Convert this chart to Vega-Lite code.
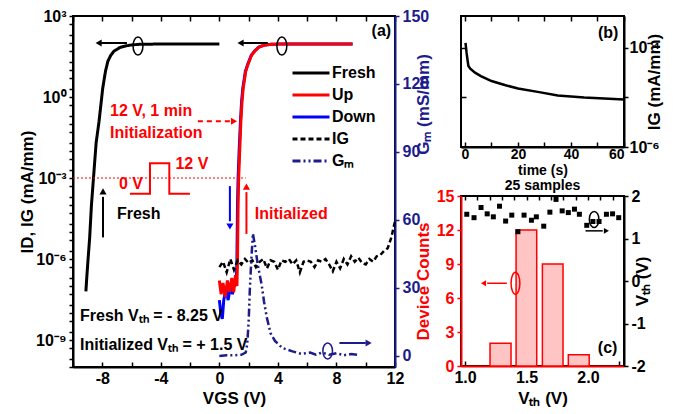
{
"$schema": "https://vega.github.io/schema/vega-lite/v6.json",
"background": "white",
"padding": {"left": 17, "top": 7, "right": 5, "bottom": 3},
"config": {
 "font": "Liberation Sans",
 "view": {"stroke": "black", "strokeWidth": 2},
 "axis": {"labelFont": "Liberation Sans", "labelFontSize": 16, "labelFontWeight": "bold", "labelColor": "black", "titleFont": "Liberation Sans", "titleFontSize": 17, "titleFontWeight": "bold", "titleColor": "black", "domainColor": "black", "domainWidth": 2, "tickColor": "black", "tickWidth": 1.5, "tickSize": 5, "grid": false, "labelPadding": 3, "labelFlush": false, "labelOverlap": false},
 "legend": {"labelFont": "Liberation Sans", "labelFontSize": 16, "labelFontWeight": "bold", "symbolType": "M-3.7,0L3.7,0", "symbolSize": 100, "symbolStrokeWidth": 3, "rowPadding": 6, "labelOffset": 13},
 "title": {"font": "Liberation Sans", "fontSize": 15, "fontWeight": "bold", "color": "black"}
},
"datasets": {
 "curves": [
  {"series": "Fresh", "vg": -9.12, "y": 6.3e-8}, {"series": "Fresh", "vg": -9.06, "y": 2.0e-7}, {"series": "Fresh", "vg": -8.97, "y": 1.0e-6}, {"series": "Fresh", "vg": -8.86, "y": 6.3e-6}, {"series": "Fresh", "vg": -8.74, "y": 1.0e-4}, {"series": "Fresh", "vg": -8.6, "y": 1.0e-3}, {"series": "Fresh", "vg": -8.42, "y": 0.02}, {"series": "Fresh", "vg": -8.22, "y": 0.126}, {"series": "Fresh", "vg": -7.97, "y": 2.1}, {"series": "Fresh", "vg": -7.78, "y": 9}, {"series": "Fresh", "vg": -7.62, "y": 21}, {"series": "Fresh", "vg": -7.42, "y": 35}, {"series": "Fresh", "vg": -7.2, "y": 50}, {"series": "Fresh", "vg": -6.8, "y": 68}, {"series": "Fresh", "vg": -6.4, "y": 78}, {"series": "Fresh", "vg": -6.0, "y": 85}, {"series": "Fresh", "vg": -5.5, "y": 89}, {"series": "Fresh", "vg": -4.5, "y": 91}, {"series": "Fresh", "vg": -3, "y": 92}, {"series": "Fresh", "vg": 0, "y": 92},
  {"series": "Down", "vg": 0.0, "y": 3e-8}, {"series": "Down", "vg": 0.1, "y": 1e-8}, {"series": "Down", "vg": 0.2, "y": 6e-9}, {"series": "Down", "vg": 0.3, "y": 3e-8}, {"series": "Down", "vg": 0.45, "y": 8e-8}, {"series": "Down", "vg": 0.6, "y": 3e-8}, {"series": "Down", "vg": 0.75, "y": 1e-7}, {"series": "Down", "vg": 0.9, "y": 5e-8}, {"series": "Down", "vg": 1.05, "y": 1.5e-7}, {"series": "Down", "vg": 1.15, "y": 1e-7}, {"series": "Down", "vg": 1.2, "y": 1e-6}, {"series": "Down", "vg": 1.24, "y": 1e-4}, {"series": "Down", "vg": 1.28, "y": 1e-3}, {"series": "Down", "vg": 1.35, "y": 0.01}, {"series": "Down", "vg": 1.44, "y": 0.126}, {"series": "Down", "vg": 1.52, "y": 0.7}, {"series": "Down", "vg": 1.6, "y": 2.1}, {"series": "Down", "vg": 1.78, "y": 9}, {"series": "Down", "vg": 1.95, "y": 17}, {"series": "Down", "vg": 2.18, "y": 35}, {"series": "Down", "vg": 2.4, "y": 50}, {"series": "Down", "vg": 2.68, "y": 70}, {"series": "Down", "vg": 3.08, "y": 84}, {"series": "Down", "vg": 3.6, "y": 90}, {"series": "Down", "vg": 4.3, "y": 92}, {"series": "Down", "vg": 9.1, "y": 92},
  {"series": "Up", "vg": 0.0, "y": 1.6e-7}, {"series": "Up", "vg": 0.12, "y": 5e-8}, {"series": "Up", "vg": 0.25, "y": 1.3e-7}, {"series": "Up", "vg": 0.4, "y": 4e-8}, {"series": "Up", "vg": 0.55, "y": 1.6e-7}, {"series": "Up", "vg": 0.7, "y": 6e-8}, {"series": "Up", "vg": 0.85, "y": 2e-7}, {"series": "Up", "vg": 0.98, "y": 6e-8}, {"series": "Up", "vg": 1.1, "y": 2.5e-7}, {"series": "Up", "vg": 1.2, "y": 1e-7}, {"series": "Up", "vg": 1.24, "y": 1e-6}, {"series": "Up", "vg": 1.28, "y": 1e-4}, {"series": "Up", "vg": 1.32, "y": 1e-3}, {"series": "Up", "vg": 1.39, "y": 0.01}, {"series": "Up", "vg": 1.47, "y": 0.126}, {"series": "Up", "vg": 1.55, "y": 0.7}, {"series": "Up", "vg": 1.63, "y": 2.1}, {"series": "Up", "vg": 1.8, "y": 9}, {"series": "Up", "vg": 1.97, "y": 17}, {"series": "Up", "vg": 2.2, "y": 35}, {"series": "Up", "vg": 2.42, "y": 50}, {"series": "Up", "vg": 2.7, "y": 70}, {"series": "Up", "vg": 3.1, "y": 84}, {"series": "Up", "vg": 3.6, "y": 90}, {"series": "Up", "vg": 4.3, "y": 92}, {"series": "Up", "vg": 9.1, "y": 92},
  {"series": "IG", "vg": 0, "y": 5.0e-7}, {"series": "IG", "vg": 0.25, "y": 7.9e-7}, {"series": "IG", "vg": 0.5, "y": 3.2e-7}, {"series": "IG", "vg": 0.75, "y": 1.0e-6}, {"series": "IG", "vg": 1.0, "y": 4.0e-7}, {"series": "IG", "vg": 1.25, "y": 8.9e-7}, {"series": "IG", "vg": 1.5, "y": 6.3e-7}, {"series": "IG", "vg": 1.75, "y": 1.0e-6}, {"series": "IG", "vg": 2.0, "y": 7.1e-7}, {"series": "IG", "vg": 2.25, "y": 8.9e-7}, {"series": "IG", "vg": 2.5, "y": 5.0e-7}, {"series": "IG", "vg": 2.75, "y": 7.9e-7}, {"series": "IG", "vg": 3.0, "y": 1.0e-6}, {"series": "IG", "vg": 3.25, "y": 4.5e-7}, {"series": "IG", "vg": 3.5, "y": 8.9e-7}, {"series": "IG", "vg": 3.75, "y": 7.9e-7}, {"series": "IG", "vg": 4.0, "y": 4.0e-7}, {"series": "IG", "vg": 4.25, "y": 8.9e-7}, {"series": "IG", "vg": 4.5, "y": 7.9e-7}, {"series": "IG", "vg": 4.75, "y": 1.0e-6}, {"series": "IG", "vg": 5.0, "y": 6.3e-7}, {"series": "IG", "vg": 5.25, "y": 8.9e-7}, {"series": "IG", "vg": 5.5, "y": 3.2e-7}, {"series": "IG", "vg": 5.75, "y": 7.9e-7}, {"series": "IG", "vg": 6.0, "y": 8.9e-7}, {"series": "IG", "vg": 6.25, "y": 7.9e-7}, {"series": "IG", "vg": 6.5, "y": 5.0e-7}, {"series": "IG", "vg": 6.75, "y": 8.9e-7}, {"series": "IG", "vg": 7.0, "y": 7.9e-7}, {"series": "IG", "vg": 7.25, "y": 1.0e-6}, {"series": "IG", "vg": 7.5, "y": 6.3e-7}, {"series": "IG", "vg": 7.75, "y": 3.5e-7}, {"series": "IG", "vg": 8.0, "y": 7.9e-7}, {"series": "IG", "vg": 8.25, "y": 4.5e-7}, {"series": "IG", "vg": 8.5, "y": 1.0e-6}, {"series": "IG", "vg": 8.75, "y": 6.3e-7}, {"series": "IG", "vg": 9.0, "y": 1.26e-6}, {"series": "IG", "vg": 9.25, "y": 7.9e-7}, {"series": "IG", "vg": 9.5, "y": 1.12e-6}, {"series": "IG", "vg": 9.75, "y": 7.1e-7}, {"series": "IG", "vg": 10.0, "y": 6.3e-7}, {"series": "IG", "vg": 10.25, "y": 1.0e-6}, {"series": "IG", "vg": 10.5, "y": 7.9e-7}, {"series": "IG", "vg": 10.75, "y": 1.26e-6}, {"series": "IG", "vg": 11.0, "y": 1.41e-6}, {"series": "IG", "vg": 11.25, "y": 2.0e-6}, {"series": "IG", "vg": 11.5, "y": 2.5e-6}, {"series": "IG", "vg": 11.75, "y": 6.3e-6}, {"series": "IG", "vg": 12.0, "y": 2.5e-5}
 ],
 "gm": [
  {"series": "Gm", "vg": 0, "gm": 0}, {"series": "Gm", "vg": 0.5, "gm": 0.3}, {"series": "Gm", "vg": 1.0, "gm": 0.3}, {"series": "Gm", "vg": 1.5, "gm": 0.5}, {"series": "Gm", "vg": 1.8, "gm": 1.5}, {"series": "Gm", "vg": 1.9, "gm": 5}, {"series": "Gm", "vg": 2.0, "gm": 15}, {"series": "Gm", "vg": 2.08, "gm": 29}, {"series": "Gm", "vg": 2.18, "gm": 42}, {"series": "Gm", "vg": 2.29, "gm": 54}, {"series": "Gm", "vg": 2.45, "gm": 48}, {"series": "Gm", "vg": 2.63, "gm": 40}, {"series": "Gm", "vg": 2.9, "gm": 31}, {"series": "Gm", "vg": 3.05, "gm": 24}, {"series": "Gm", "vg": 3.24, "gm": 17}, {"series": "Gm", "vg": 3.5, "gm": 10}, {"series": "Gm", "vg": 3.8, "gm": 6.6}, {"series": "Gm", "vg": 4.3, "gm": 3.5}, {"series": "Gm", "vg": 5.0, "gm": 2}, {"series": "Gm", "vg": 5.6, "gm": 0.9}, {"series": "Gm", "vg": 6.2, "gm": 1.5}, {"series": "Gm", "vg": 6.6, "gm": 0.5}, {"series": "Gm", "vg": 7.0, "gm": 1.5}, {"series": "Gm", "vg": 7.5, "gm": 0.5}, {"series": "Gm", "vg": 8.0, "gm": 1.2}, {"series": "Gm", "vg": 8.5, "gm": 0.3}, {"series": "Gm", "vg": 9.0, "gm": 0.8}, {"series": "Gm", "vg": 9.5, "gm": 0.5}
 ],
 "gate": [
  {"t": 0.2, "ig": 1.26e-4}, {"t": 0.6, "ig": 8e-5}, {"t": 1.0, "ig": 5.5e-5}, {"t": 1.3, "ig": 4.3e-5}, {"t": 2, "ig": 3.8e-5}, {"t": 3.8, "ig": 3.16e-5}, {"t": 6, "ig": 2.7e-5}, {"t": 10, "ig": 2.14e-5}, {"t": 15, "ig": 1.78e-5}, {"t": 20, "ig": 1.51e-5}, {"t": 28, "ig": 1.28e-5}, {"t": 35, "ig": 1.1e-5}, {"t": 45, "ig": 1.0e-5}, {"t": 60, "ig": 9.1e-6}
 ],
 "hist": [
  {"lo": 1.203, "hi": 1.374, "count": 2}, {"lo": 1.415, "hi": 1.583, "count": 12}, {"lo": 1.629, "hi": 1.797, "count": 9}, {"lo": 1.84, "hi": 2.01, "count": 1}
 ],
 "vth": [
  {"x": 1.014, "v": 1.57}, {"x": 1.073, "v": 1.49}, {"x": 1.13, "v": 1.73}, {"x": 1.18, "v": 1.58}, {"x": 1.23, "v": 1.51}, {"x": 1.28, "v": 1.76}, {"x": 1.33, "v": 1.41}, {"x": 1.38, "v": 1.55}, {"x": 1.43, "v": 1.16}, {"x": 1.48, "v": 1.55}, {"x": 1.54, "v": 1.43}, {"x": 1.58, "v": 1.51}, {"x": 1.64, "v": 1.29}, {"x": 1.69, "v": 1.62}, {"x": 1.74, "v": 1.92}, {"x": 1.79, "v": 1.65}, {"x": 1.84, "v": 1.61}, {"x": 1.89, "v": 1.69}, {"x": 1.93, "v": 1.57}, {"x": 1.99, "v": 1.31}, {"x": 2.04, "v": 1.4}, {"x": 2.09, "v": 1.4}, {"x": 2.15, "v": 1.57}, {"x": 2.2, "v": 1.58}, {"x": 2.25, "v": 1.49}
 ]
},
"hconcat": [
 {
  "width": 322, "height": 351,
  "layer": [
   {"layer": [
    {"data": {"name": "curves"}, "transform": [{"filter": "datum.series === 'Fresh'"}],
     "mark": {"type": "line", "strokeWidth": 3},
     "encoding": {
      "x": {"field": "vg", "type": "quantitative", "scale": {"domain": [-10, 12], "nice": false}, "axis": {"title": "VGS (V)", "values": [-10, -8, -6, -4, -2, 0, 2, 4, 6, 8, 10, 12], "tickCount": 100, "labelExpr": "indexof(['-8','-4','0','4','8','12'], '' + datum.value) >= 0 ? '' + datum.value : ''", "labelOverlap": false, "tickSize": -5, "labelPadding": 8, "titlePadding": 4}},
      "y": {"field": "y", "type": "quantitative", "scale": {"type": "log", "domain": [1e-10, 1000], "nice": false}, "axis": {"title": "ID, IG (mA/mm)", "labelOverlap": false, "tickCount": 100, "values": [1e-10, 2e-10, 5e-10, 1e-9, 2e-9, 5e-9, 1e-8, 2e-8, 5e-8, 1e-7, 2e-7, 5e-7, 1e-6, 2e-6, 5e-6, 1e-5, 2e-5, 5e-5, 1e-4, 2e-4, 5e-4, 1e-3, 2e-3, 5e-3, 0.01, 0.02, 0.05, 0.1, 0.2, 0.5, 1, 2, 5, 10, 20, 50, 100, 200, 500, 1000], "labelExpr": "abs(log(datum.value)/LN10 - round(log(datum.value)/LN10)) > 0.01 ? '' : (round(log(datum.value)/LN10) === 3 ? '10³' : round(log(datum.value)/LN10) === 0 ? '10⁰' : round(log(datum.value)/LN10) === -3 ? '10⁻³' : round(log(datum.value)/LN10) === -6 ? '10⁻⁶' : round(log(datum.value)/LN10) === -9 ? '10⁻⁹' : '')", "tickSize": 4, "titlePadding": -1}},
      "color": {"field": "series", "type": "nominal", "scale": {"domain": ["Fresh", "Up", "Down", "IG", "Gm"], "range": ["#000000", "#ff0000", "#0000ff", "#000000", "#1c1c8c"]}, "legend": {"title": null, "orient": "none", "legendX": 230, "legendY": 49, "labelExpr": "datum.label === 'Gm' ? 'Gₘ' : datum.label"}},
      "strokeDash": {"field": "series", "type": "nominal", "scale": {"domain": ["Fresh", "Up", "Down", "IG", "Gm"], "range": [[1, 0], [1, 0], [1, 0], [5, 3], [8, 3, 2, 3, 2, 3]]}, "legend": {"title": null, "orient": "none", "legendX": 230, "legendY": 49, "labelExpr": "datum.label === 'Gm' ? 'Gₘ' : datum.label"}}
     }},
    {"data": {"name": "curves"}, "transform": [{"filter": "datum.series === 'Down'"}],
     "mark": {"type": "line", "strokeWidth": 3},
     "encoding": {"x": {"field": "vg", "type": "quantitative"}, "y": {"field": "y", "type": "quantitative"}, "color": {"field": "series", "type": "nominal"}, "strokeDash": {"field": "series", "type": "nominal"}}},
    {"data": {"name": "curves"}, "transform": [{"filter": "datum.series === 'Up'"}],
     "mark": {"type": "line", "strokeWidth": 3},
     "encoding": {"x": {"field": "vg", "type": "quantitative"}, "y": {"field": "y", "type": "quantitative"}, "color": {"field": "series", "type": "nominal"}, "strokeDash": {"field": "series", "type": "nominal"}}},
    {"data": {"name": "curves"}, "transform": [{"filter": "datum.series === 'IG'"}],
     "mark": {"type": "line", "strokeWidth": 2.5},
     "encoding": {"x": {"field": "vg", "type": "quantitative"}, "y": {"field": "y", "type": "quantitative"}, "color": {"field": "series", "type": "nominal"}, "strokeDash": {"field": "series", "type": "nominal"}}},
    {"data": {"values": [{"vg": -10, "vg2": 1.8, "y": 0.001}]},
     "mark": {"type": "rule", "color": "#ff0000", "strokeWidth": 1, "strokeDash": [2, 2]},
     "encoding": {"x": {"field": "vg", "type": "quantitative"}, "x2": {"field": "vg2"}, "y": {"field": "y", "type": "quantitative"}}},
    {"data": {"values": [{"i": 1, "vg": -6.11, "y": 2.6e-4}, {"i": 2, "vg": -4.74, "y": 2.6e-4}, {"i": 3, "vg": -4.74, "y": 3.5e-3}, {"i": 4, "vg": -3.42, "y": 3.5e-3}, {"i": 5, "vg": -3.42, "y": 2.6e-4}, {"i": 6, "vg": -2.01, "y": 2.6e-4}]},
     "mark": {"type": "line", "color": "#ff0000", "strokeWidth": 2},
     "encoding": {"x": {"field": "vg", "type": "quantitative"}, "y": {"field": "y", "type": "quantitative"}, "order": {"field": "i", "type": "quantitative"}}},
    {"data": {"values": [{"vg": -6.31, "vg2": -8.1, "y": 100, "y2": 100}, {"vg": 3.31, "vg2": 1.6, "y": 100, "y2": 100}, {"vg": -7.95, "vg2": -7.95, "y": 6.3e-6, "y2": 2.0e-4}]},
     "mark": {"type": "rule", "color": "black", "strokeWidth": 2},
     "encoding": {"x": {"field": "vg", "type": "quantitative"}, "x2": {"field": "vg2"}, "y": {"field": "y", "type": "quantitative"}, "y2": {"field": "y2"}}},
    {"data": {"values": [{"vg": -8.25, "y": 100, "head": "triangle-left"}, {"vg": 1.45, "y": 100, "head": "triangle-left"}, {"vg": -7.95, "y": 3.2e-4, "head": "triangle-up"}]},
     "mark": {"type": "point", "filled": true, "color": "black", "size": 50, "opacity": 1},
     "encoding": {"x": {"field": "vg", "type": "quantitative"}, "y": {"field": "y", "type": "quantitative"}, "shape": {"field": "head", "type": "nominal", "scale": null}}},
    {"data": {"values": [{"vg": 1.85, "vg2": 1.85, "y": 8.5e-6, "y2": 3.0e-4}]},
     "mark": {"type": "rule", "color": "#ff0000", "strokeWidth": 2},
     "encoding": {"x": {"field": "vg", "type": "quantitative"}, "x2": {"field": "vg2"}, "y": {"field": "y", "type": "quantitative"}, "y2": {"field": "y2"}}},
    {"data": {"values": [{"vg": -1.47, "vg2": 0.85, "y": 0.126}]},
     "mark": {"type": "rule", "color": "#ff0000", "strokeWidth": 2, "strokeDash": [5, 4]},
     "encoding": {"x": {"field": "vg", "type": "quantitative"}, "x2": {"field": "vg2"}, "y": {"field": "y", "type": "quantitative"}}},
    {"data": {"values": [{"vg": 1.85, "y": 4.8e-4, "head": "triangle-up"}, {"vg": 1.0, "y": 0.126, "head": "triangle-right"}]},
     "mark": {"type": "point", "filled": true, "color": "#ff0000", "size": 50, "opacity": 1},
     "encoding": {"x": {"field": "vg", "type": "quantitative"}, "y": {"field": "y", "type": "quantitative"}, "shape": {"field": "head", "type": "nominal", "scale": null}}},
    {"data": {"values": [{"vg": 0.72, "vg2": 0.72, "y": 5e-4, "y2": 2.5e-5}]},
     "mark": {"type": "rule", "color": "#0000ff", "strokeWidth": 2},
     "encoding": {"x": {"field": "vg", "type": "quantitative"}, "x2": {"field": "vg2"}, "y": {"field": "y", "type": "quantitative"}, "y2": {"field": "y2"}}},
    {"data": {"values": [{"vg": 0.72, "y": 1.6e-5, "head": "triangle-down"}]},
     "mark": {"type": "point", "filled": true, "color": "#0000ff", "size": 50, "opacity": 1},
     "encoding": {"x": {"field": "vg", "type": "quantitative"}, "y": {"field": "y", "type": "quantitative"}, "shape": {"field": "head", "type": "nominal", "scale": null}}},
    {"data": {"values": [{"vg": -5.56, "y": 77}, {"vg": 4.27, "y": 77}]},
     "mark": {"type": "point", "shape": "M0,-1A0.55,1 0 1,1 0,1A0.55,1 0 1,1 0,-1Z", "filled": false, "color": "black", "strokeWidth": 1.5, "size": 324, "opacity": 1},
     "encoding": {"x": {"field": "vg", "type": "quantitative"}, "y": {"field": "y", "type": "quantitative"}}},
    {"data": {"values": [{"vg": -7.47, "y": 0.30, "label": "12 V, 1 min"}, {"vg": -7.47, "y": 0.048, "label": "Initialization"}, {"vg": 2.42, "y": 4.7e-5, "label": "Initialized"}]},
     "mark": {"type": "text", "color": "#ff0000", "font": "Liberation Sans", "fontSize": 16, "fontWeight": "bold", "align": "left", "baseline": "middle"},
     "encoding": {"x": {"field": "vg", "type": "quantitative"}, "y": {"field": "y", "type": "quantitative"}, "text": {"field": "label", "type": "nominal"}}},
    {"data": {"values": [{"vg": -6.04, "y": 6.2e-4, "label": "0 V"}, {"vg": -1.88, "y": 3.2e-3, "label": "12 V"}]},
     "mark": {"type": "text", "color": "#ff0000", "font": "Liberation Sans", "fontSize": 16, "fontWeight": "bold", "align": "center", "baseline": "middle"},
     "encoding": {"x": {"field": "vg", "type": "quantitative"}, "y": {"field": "y", "type": "quantitative"}, "text": {"field": "label", "type": "nominal"}}},
    {"data": {"values": [{"vg": -7.0, "y": 4.7e-5, "label": "Fresh"}, {"vg": -9.52, "y": 7.8e-9, "label": "Fresh Vₜₕ = - 8.25 V"}, {"vg": -9.52, "y": 6.5e-10, "label": "Initialized Vₜₕ = + 1.5 V"}, {"vg": 10.4, "y": 277, "label": "(a)"}]},
     "mark": {"type": "text", "color": "black", "font": "Liberation Sans", "fontSize": 16, "fontWeight": "bold", "align": "left", "baseline": "middle"},
     "encoding": {"x": {"field": "vg", "type": "quantitative"}, "y": {"field": "y", "type": "quantitative"}, "text": {"field": "label", "type": "nominal"}}}
   ]},
   {"layer": [
    {"data": {"name": "gm"},
     "mark": {"type": "line", "strokeWidth": 2.5},
     "encoding": {
      "x": {"field": "vg", "type": "quantitative", "axis": {"orient": "top", "title": null, "labels": false, "domain": false, "values": [-10, -8, -6, -4, -2, 0, 2, 4, 6, 8, 10, 12], "tickCount": 100, "tickSize": -5}},
      "y": {"field": "gm", "type": "quantitative", "scale": {"domain": [-4.9, 150], "nice": false, "zero": false}, "axis": {"orient": "right", "title": "Gₘ (mS/mm)", "titleAngle": 270, "titleY": 88, "titleColor": "#1c1c8c", "labelColor": "#1c1c8c", "domainColor": "#1c1c8c", "tickColor": "#1c1c8c", "values": [0, 30, 60, 90, 120, 150], "tickCount": 100, "labelOverlap": false, "tickSize": 4, "titlePadding": 4}},
      "color": {"field": "series", "type": "nominal"},
      "strokeDash": {"field": "series", "type": "nominal"}
     }},
    {"data": {"values": [{"vg": 8.2, "vg2": 10.0, "gm": 5.7}]},
     "mark": {"type": "rule", "color": "#1c1c8c", "strokeWidth": 2},
     "encoding": {"x": {"field": "vg", "type": "quantitative"}, "x2": {"field": "vg2"}, "y": {"field": "gm", "type": "quantitative"}}},
    {"data": {"values": [{"vg": 10.2, "gm": 5.7, "head": "triangle-right"}]},
     "mark": {"type": "point", "filled": true, "color": "#1c1c8c", "size": 50, "opacity": 1},
     "encoding": {"x": {"field": "vg", "type": "quantitative"}, "y": {"field": "gm", "type": "quantitative"}, "shape": {"field": "head", "type": "nominal", "scale": null}}},
    {"data": {"values": [{"vg": 7.4, "gm": 2.2}]},
     "mark": {"type": "point", "shape": "M0,-1A0.6,1 0 1,1 0,1A0.6,1 0 1,1 0,-1Z", "filled": false, "color": "#1c1c8c", "strokeWidth": 1.5, "size": 256, "opacity": 1},
     "encoding": {"x": {"field": "vg", "type": "quantitative"}, "y": {"field": "gm", "type": "quantitative"}}}
   ]}
  ],
  "resolve": {"scale": {"y": "independent"}, "axis": {"x": "independent"}}
 },
 {
  "vconcat": [
   {
    "width": 163, "height": 131,
    "layer": [
     {"data": {"name": "gate"},
      "mark": {"type": "line", "color": "black", "strokeWidth": 2.5},
      "encoding": {
       "x": {"field": "t", "type": "quantitative", "scale": {"domain": [-1.5, 60], "nice": false}, "axis": {"title": "time (s)", "titleFontSize": 14, "labelFontSize": 14, "values": [0, 10, 20, 30, 40, 50, 60], "tickCount": 100, "labelExpr": "datum.value % 20 === 0 ? '' + datum.value : ''", "labelOverlap": false, "labelFlush": true, "tickSize": -5, "labelPadding": 5, "titlePadding": 2}},
       "y": {"field": "ig", "type": "quantitative", "scale": {"type": "log", "domain": [1e-6, 4.4e-4], "nice": false}, "axis": {"orient": "right", "title": "IG (mA/mm)", "titleAngle": 270, "values": [1e-6, 1e-5, 1e-4], "tickCount": 100, "labelExpr": "datum.value < 5e-6 ? '10⁻⁶' : datum.value > 5e-5 ? '10⁻⁴' : ''", "labelOverlap": false, "tickSize": 4, "labelPadding": 1, "titlePadding": 4}}
      }},
     {"data": {"values": [{"t": 54, "ig": 2.0e-4, "label": "(b)"}]},
      "mark": {"type": "text", "color": "black", "font": "Liberation Sans", "fontSize": 16, "fontWeight": "bold", "align": "center", "baseline": "middle"},
      "encoding": {
       "x": {"field": "t", "type": "quantitative", "axis": {"orient": "top", "title": null, "labels": false, "domain": false, "values": [0, 10, 20, 30, 40, 50, 60], "tickCount": 100, "tickSize": -5}},
       "y": {"field": "ig", "type": "quantitative", "axis": {"orient": "left", "title": null, "labels": false, "domain": false, "values": [1e-6, 1e-5, 1e-4], "tickCount": 100, "tickSize": -5}},
       "text": {"field": "label", "type": "nominal"}}}
    ],
    "resolve": {"axis": {"x": "independent", "y": "independent"}}
   },
   {
    "width": 163, "height": 170,
    "title": {"text": "25 samples", "fontSize": 14, "offset": -5, "frame": "group"},
    "layer": [
     {"layer": [
      {"data": {"name": "hist"},
       "mark": {"type": "rect", "fill": "#ffc4c4", "stroke": "#ff0000", "strokeWidth": 1.5},
       "encoding": {
        "x": {"field": "lo", "type": "quantitative", "scale": {"domain": [0.967, 2.293], "nice": false, "zero": false}, "axis": {"title": "Vₜₕ (V)", "values": [1.0, 1.25, 1.5, 1.75, 2.0, 2.25], "tickCount": 100, "labelExpr": "(datum.value * 2) % 1 === 0 ? format(datum.value, '.1f') : ''", "labelOverlap": false, "domainColor": "#ff0000", "tickSize": -5, "labelPadding": 8, "titlePadding": 5}},
        "x2": {"field": "hi"},
        "y": {"field": "count", "type": "quantitative", "scale": {"domain": [0, 15], "nice": false}, "axis": {"title": "Device Counts", "titleColor": "#ff0000", "labelColor": "#ff0000", "domainColor": "#ff0000", "tickColor": "#ff0000", "values": [0, 3, 6, 9, 12, 15], "tickCount": 100, "labelExpr": "'' + datum.value", "labelOverlap": false, "tickSize": 4, "titlePadding": 4}},
        "y2": {"datum": 0}
       }},
      {"data": {"values": [{"x": 1.34, "x2": 1.18, "count": 7.3}]},
       "mark": {"type": "rule", "color": "#ff0000", "strokeWidth": 1.5},
       "encoding": {"x": {"field": "x", "type": "quantitative"}, "x2": {"field": "x2"}, "y": {"field": "count", "type": "quantitative"}}},
      {"data": {"values": [{"x": 1.15, "count": 7.3, "head": "triangle-left"}]},
       "mark": {"type": "point", "filled": true, "color": "#ff0000", "size": 35, "opacity": 1},
       "encoding": {"x": {"field": "x", "type": "quantitative"}, "y": {"field": "count", "type": "quantitative"}, "shape": {"field": "head", "type": "nominal", "scale": null}}},
      {"data": {"values": [{"x": 1.41, "count": 7.3}]},
       "mark": {"type": "point", "shape": "M0,-1A0.4,1 0 1,1 0,1A0.4,1 0 1,1 0,-1Z", "filled": false, "color": "#ff0000", "strokeWidth": 1.5, "size": 484, "opacity": 1},
       "encoding": {"x": {"field": "x", "type": "quantitative"}, "y": {"field": "count", "type": "quantitative"}}},
      {"data": {"values": [{"x": 2.16, "count": 1.6, "label": "(c)"}]},
       "mark": {"type": "text", "color": "black", "font": "Liberation Sans", "fontSize": 16, "fontWeight": "bold", "align": "center", "baseline": "middle"},
       "encoding": {"x": {"field": "x", "type": "quantitative"}, "y": {"field": "count", "type": "quantitative"}, "text": {"field": "label", "type": "nominal"}}}
     ]},
     {"layer": [
      {"data": {"name": "vth"},
       "mark": {"type": "square", "color": "black", "size": 25, "opacity": 1},
       "encoding": {
        "x": {"field": "x", "type": "quantitative", "axis": {"orient": "top", "title": null, "labels": false, "domain": false, "values": [1.0, 1.1, 1.2, 1.3, 1.4, 1.5, 1.6, 1.7, 1.8, 1.9, 2.0, 2.1, 2.2], "tickCount": 100, "tickSize": -4}},
        "y": {"field": "v", "type": "quantitative", "scale": {"domain": [-2, 2], "nice": false}, "axis": {"orient": "right", "title": "Vₜₕ (V)", "titleAngle": 270, "values": [-2, -1, 0, 1, 2], "tickCount": 100, "labelExpr": "'' + datum.value", "labelOverlap": false, "tickSize": 4, "titlePadding": 6}}
       }},
      {"data": {"values": [{"x": 1.98, "x2": 2.12, "v": 1.18}]},
       "mark": {"type": "rule", "color": "black", "strokeWidth": 1.5},
       "encoding": {"x": {"field": "x", "type": "quantitative"}, "x2": {"field": "x2"}, "y": {"field": "v", "type": "quantitative"}}},
      {"data": {"values": [{"x": 2.15, "v": 1.18, "head": "triangle-right"}]},
       "mark": {"type": "point", "filled": true, "color": "black", "size": 35, "opacity": 1},
       "encoding": {"x": {"field": "x", "type": "quantitative"}, "y": {"field": "v", "type": "quantitative"}, "shape": {"field": "head", "type": "nominal", "scale": null}}},
      {"data": {"values": [{"x": 2.05, "v": 1.45}]},
       "mark": {"type": "point", "shape": "M0,-1A0.6,1 0 1,1 0,1A0.6,1 0 1,1 0,-1Z", "filled": false, "color": "black", "strokeWidth": 1.5, "size": 256, "opacity": 1},
       "encoding": {"x": {"field": "x", "type": "quantitative"}, "y": {"field": "v", "type": "quantitative"}}}
     ]}
    ],
    "resolve": {"scale": {"y": "independent"}, "axis": {"x": "independent"}}
   }
  ],
  "spacing": 49,
  "bounds": "flush"
 }
],
"spacing": 66,
"bounds": "flush"
}
